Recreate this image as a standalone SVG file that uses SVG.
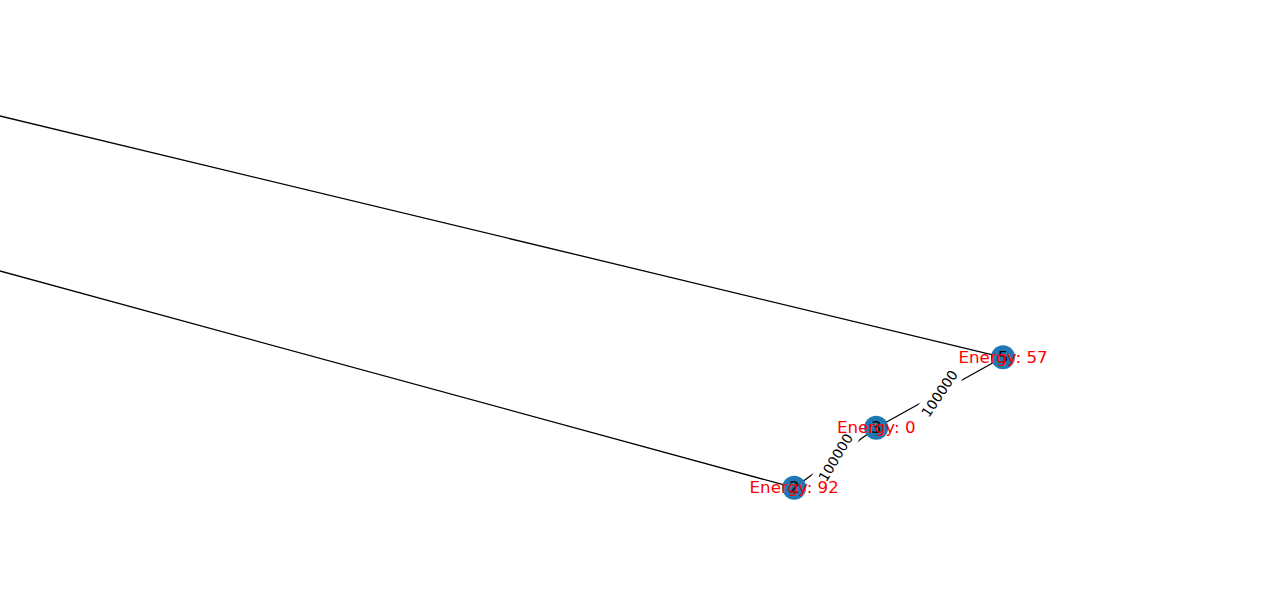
<svg xmlns="http://www.w3.org/2000/svg" width="1280" height="612" viewBox="0 0 1280 612">
  <style>
    .edge { stroke: #000; stroke-width: 1.3; fill: none; }
    .node circle { fill: #1f78b4; }
    .nlabel { font-family: "DejaVu Sans", sans-serif; font-size: 16.67px; fill: #000; text-anchor: middle; }
    .energy { font-family: "DejaVu Sans", sans-serif; font-size: 16.67px; fill: #ff0000; text-anchor: middle; }
    .elabel { font-family: "DejaVu Sans", sans-serif; font-size: 13.9px; fill: #000; text-anchor: middle; }
    .ebox { fill: #fff; stroke: #fff; }
  </style>
  <rect width="1280" height="612" fill="#fff"/>
  <g id="connectors">
    <line class="edge" x1="-10" y1="113.6" x2="1003" y2="357.3"/>
    <line class="edge" x1="-10" y1="268.3" x2="794.2" y2="487.7"/>
    <line class="edge" x1="794.2" y1="487.7" x2="876.2" y2="427.7"/>
    <line class="edge" x1="876.2" y1="427.7" x2="1003" y2="357.3"/>
    <g id="label-2-3" transform="translate(835.5,457.5) rotate(-59)">
      <rect class="ebox" x="-30" y="-10.5" width="60" height="21" rx="3"/>
      <text class="elabel" x="0" y="5">100000</text>
    </g>
    <g id="label-3-5" transform="translate(939.5,393.5) rotate(-56)">
      <rect class="ebox" x="-30" y="-10.5" width="60" height="21" rx="3"/>
      <text class="elabel" x="0" y="5">100000</text>
    </g>
  </g>
  <g id="node-2" class="node">
    <circle cx="794.2" cy="487.7" r="12"/>
    <text class="nlabel" x="794.2" y="493.2">2</text>
  </g>
  <g id="node-3" class="node">
    <circle cx="876.2" cy="427.7" r="12"/>
    <text class="nlabel" x="876.2" y="433.2">3</text>
  </g>
  <g id="node-5" class="node">
    <circle cx="1003" cy="357.3" r="12"/>
    <text class="nlabel" x="1003" y="362.8">5</text>
  </g>
  <g id="energy-labels">
    <text class="energy" x="794.2" y="493.2">Energy: 92</text>
    <text class="energy" x="876.2" y="433.2">Energy: 0</text>
    <text class="energy" x="1003" y="362.8">Energy: 57</text>
  </g>
</svg>
